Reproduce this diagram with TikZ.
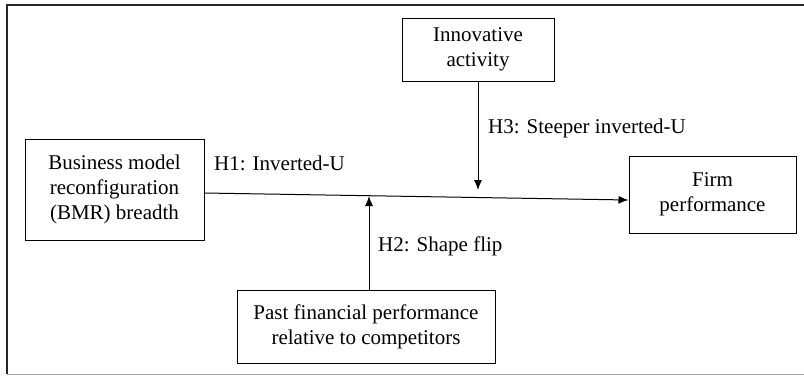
\documentclass[tikz,border=0pt]{standalone}
\usepackage{fontspec}
\setmainfont{Liberation Serif}
\usetikzlibrary{shapes,arrows,arrows.meta,positioning}
\tikzstyle{block} = [rectangle, draw, line width=1pt, align=center, inner sep=0pt, font=\fontsize{21}{25}\selectfont]
\tikzstyle{hyp} = [inner sep=0pt, anchor=west, font=\fontsize{21}{25}\selectfont]
\tikzstyle{line} = [draw, -{Latex[length=10pt,width=8pt]}, line width=1pt]
\begin{document}
\begin{tikzpicture}[x=1pt,y=-1pt]
    \useasboundingbox (0,0) rectangle (804,376);
    \draw [line width=1.3pt, black!85] (804,5) -- (7,5) -- (7,374);
    \draw [line width=1pt, black!35] (7,374) -- (804,374);
    \node [block, minimum width=179pt, minimum height=101pt] (bmr) at (114.5,189.5) {Business model\\reconfiguration\\(BMR) breadth};
    \node [block, minimum width=167pt, minimum height=77pt] (firm) at (712.5,194.5) {Firm\\performance};
    \node [block, minimum width=152pt, minimum height=63pt] (innov) at (478,49.5) {Innovative\\activity};
    \node [block, minimum width=258pt, minimum height=73pt] (past) at (366,326.5) {Past financial performance\\relative to competitors};
    \coordinate (innovtip) at (478,190);
    \coordinate (pasttip) at (369,196);
    \path [line] ([yshift=-3.5pt]bmr.east) -- ([yshift=-5.5pt]firm.west);
    \path [line] (innov.south) -- (innovtip);
    \path [line] ([xshift=3pt]past.north) -- (pasttip);
    \node [hyp] (h1) at (214,163) {H1: Inverted-U};
    \node [hyp] (h3) at (488,128) {H3: Steeper inverted-U};
    \node [hyp] (h2) at (378,246) {H2: Shape flip};
\end{tikzpicture}
\end{document}
